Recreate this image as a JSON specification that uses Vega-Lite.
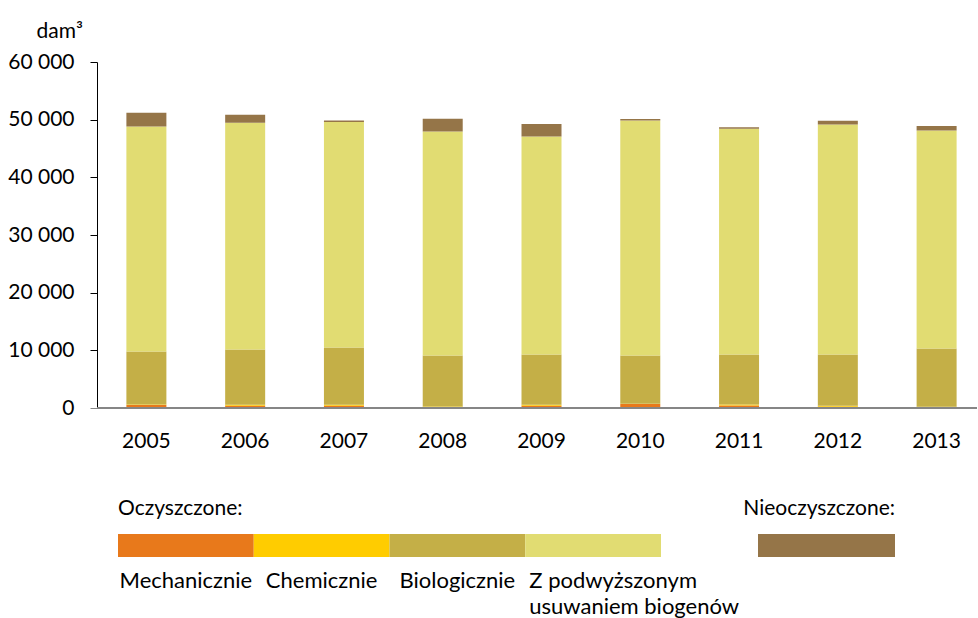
{
  "$schema": "https://vega.github.io/schema/vega-lite/v6.json",
  "padding": {"left": 7, "top": 20, "right": 0, "bottom": 0},
  "config": {
    "font": "Lato",
    "view": {"stroke": null},
    "locale": {"number": {"decimal": ",", "thousands": " ", "grouping": [3], "currency": ["", " zł"]}},
    "axis": {"labelFont": "Lato", "titleFont": "Lato", "labelColor": "#000000", "titleColor": "#000000"},
    "title": {"font": "Lato", "fontWeight": "normal", "color": "#000000", "fontSize": 21}
  },
  "spacing": 47,
  "vconcat": [
    {
      "width": 880,
      "height": 346,
      "data": {
        "values": [
          {"rok": "2005", "kategoria": "Mechanicznie", "n": 1, "wartosc": 500},
          {"rok": "2005", "kategoria": "Chemicznie", "n": 2, "wartosc": 100},
          {"rok": "2005", "kategoria": "Biologicznie", "n": 3, "wartosc": 9200},
          {"rok": "2005", "kategoria": "Z podwyższonym usuwaniem biogenów", "n": 4, "wartosc": 39030},
          {"rok": "2005", "kategoria": "Nieoczyszczone", "n": 5, "wartosc": 2370},
          {"rok": "2006", "kategoria": "Mechanicznie", "n": 1, "wartosc": 400},
          {"rok": "2006", "kategoria": "Chemicznie", "n": 2, "wartosc": 150},
          {"rok": "2006", "kategoria": "Biologicznie", "n": 3, "wartosc": 9610},
          {"rok": "2006", "kategoria": "Z podwyższonym usuwaniem biogenów", "n": 4, "wartosc": 39310},
          {"rok": "2006", "kategoria": "Nieoczyszczone", "n": 5, "wartosc": 1390},
          {"rok": "2007", "kategoria": "Mechanicznie", "n": 1, "wartosc": 400},
          {"rok": "2007", "kategoria": "Chemicznie", "n": 2, "wartosc": 150},
          {"rok": "2007", "kategoria": "Biologicznie", "n": 3, "wartosc": 9960},
          {"rok": "2007", "kategoria": "Z podwyższonym usuwaniem biogenów", "n": 4, "wartosc": 39090},
          {"rok": "2007", "kategoria": "Nieoczyszczone", "n": 5, "wartosc": 250},
          {"rok": "2008", "kategoria": "Mechanicznie", "n": 1, "wartosc": 100},
          {"rok": "2008", "kategoria": "Chemicznie", "n": 2, "wartosc": 150},
          {"rok": "2008", "kategoria": "Biologicznie", "n": 3, "wartosc": 8870},
          {"rok": "2008", "kategoria": "Z podwyższonym usuwaniem biogenów", "n": 4, "wartosc": 38840},
          {"rok": "2008", "kategoria": "Nieoczyszczone", "n": 5, "wartosc": 2210},
          {"rok": "2009", "kategoria": "Mechanicznie", "n": 1, "wartosc": 400},
          {"rok": "2009", "kategoria": "Chemicznie", "n": 2, "wartosc": 150},
          {"rok": "2009", "kategoria": "Biologicznie", "n": 3, "wartosc": 8740},
          {"rok": "2009", "kategoria": "Z podwyższonym usuwaniem biogenów", "n": 4, "wartosc": 37810},
          {"rok": "2009", "kategoria": "Nieoczyszczone", "n": 5, "wartosc": 2150},
          {"rok": "2010", "kategoria": "Mechanicznie", "n": 1, "wartosc": 700},
          {"rok": "2010", "kategoria": "Chemicznie", "n": 2, "wartosc": 50},
          {"rok": "2010", "kategoria": "Biologicznie", "n": 3, "wartosc": 8370},
          {"rok": "2010", "kategoria": "Z podwyższonym usuwaniem biogenów", "n": 4, "wartosc": 40750},
          {"rok": "2010", "kategoria": "Nieoczyszczone", "n": 5, "wartosc": 250},
          {"rok": "2011", "kategoria": "Mechanicznie", "n": 1, "wartosc": 450},
          {"rok": "2011", "kategoria": "Chemicznie", "n": 2, "wartosc": 150},
          {"rok": "2011", "kategoria": "Biologicznie", "n": 3, "wartosc": 8690},
          {"rok": "2011", "kategoria": "Z podwyższonym usuwaniem biogenów", "n": 4, "wartosc": 39140},
          {"rok": "2011", "kategoria": "Nieoczyszczone", "n": 5, "wartosc": 250},
          {"rok": "2012", "kategoria": "Mechanicznie", "n": 1, "wartosc": 200},
          {"rok": "2012", "kategoria": "Chemicznie", "n": 2, "wartosc": 200},
          {"rok": "2012", "kategoria": "Biologicznie", "n": 3, "wartosc": 8890},
          {"rok": "2012", "kategoria": "Z podwyższonym usuwaniem biogenów", "n": 4, "wartosc": 39880},
          {"rok": "2012", "kategoria": "Nieoczyszczone", "n": 5, "wartosc": 640},
          {"rok": "2013", "kategoria": "Mechanicznie", "n": 1, "wartosc": 50},
          {"rok": "2013", "kategoria": "Chemicznie", "n": 2, "wartosc": 150},
          {"rok": "2013", "kategoria": "Biologicznie", "n": 3, "wartosc": 10130},
          {"rok": "2013", "kategoria": "Z podwyższonym usuwaniem biogenów", "n": 4, "wartosc": 37800},
          {"rok": "2013", "kategoria": "Nieoczyszczone", "n": 5, "wartosc": 760}
        ]
      },
      "layer": [
        {
          "mark": {"type": "bar", "width": 40},
          "encoding": {
            "x": {
              "field": "rok", "type": "ordinal",
              "scale": {"range": [0, 889], "paddingInner": 0, "paddingOuter": 0},
              "axis": {"title": null, "domain": false, "ticks": false, "labelAngle": 0, "labelFontSize": 21, "labelPadding": 39, "labelBaseline": "alphabetic"}
            },
            "y": {
              "field": "wartosc", "type": "quantitative", "stack": "zero",
              "scale": {"domain": [0, 60000], "nice": false},
              "axis": {
                "values": [0, 10000, 20000, 30000, 40000, 50000, 60000],
                "format": ",d", "grid": false, "domainColor": "#000000",
                "tickColor": {"condition": {"test": "datum.value === 0", "value": "#868686"}, "value": "#000000"},
                "tickSize": 7,
                "labelFontSize": 21, "labelPadding": 16,
                "title": "dam³", "titleAngle": 0, "titleFontSize": 21, "titleFontWeight": "normal",
                "titleAlign": "left", "titleBaseline": "alphabetic", "titleX": -61, "titleY": -25
              }
            },
            "color": {
              "field": "kategoria", "type": "nominal",
              "scale": {
                "domain": ["Mechanicznie", "Chemicznie", "Biologicznie", "Z podwyższonym usuwaniem biogenów", "Nieoczyszczone"],
                "range": ["#E8791B", "#FFCC00", "#C4AF47", "#E1DC72", "#957548"]
              },
              "legend": null
            },
            "order": {"field": "n", "type": "quantitative"}
          }
        },
        {
          "mark": {"type": "rule", "color": "#868686", "strokeWidth": 1.5},
          "encoding": {"y": {"datum": 0}}
        }
      ]
    },
    {
      "bounds": "flush",
      "spacing": 97,
      "hconcat": [
        {
          "width": 564,
          "height": 23,
          "title": {"text": "Oczyszczone:", "anchor": "start", "dx": 21, "offset": -2, "baseline": "alphabetic"},
          "data": {
            "values": [
              {"kategoria": "Mechanicznie", "n": 1, "etykieta": "Mechanicznie"},
              {"kategoria": "Chemicznie", "n": 2, "etykieta": "Chemicznie"},
              {"kategoria": "Biologicznie", "n": 3, "etykieta": "Biologicznie"},
              {"kategoria": "Z podwyższonym usuwaniem biogenów", "n": 4, "etykieta": "Z podwyższonym\nusuwaniem biogenów"}
            ]
          },
          "layer": [
            {
              "mark": {"type": "bar"},
              "encoding": {
                "x": {"field": "kategoria", "type": "nominal", "sort": null, "scale": {"range": [21, 564], "paddingInner": 0, "paddingOuter": 0}, "axis": null},
                "color": {
                  "field": "kategoria", "type": "nominal",
                  "scale": {
                    "domain": ["Mechanicznie", "Chemicznie", "Biologicznie", "Z podwyższonym usuwaniem biogenów", "Nieoczyszczone"],
                    "range": ["#E8791B", "#FFCC00", "#C4AF47", "#E1DC72", "#957548"]
                  },
                  "legend": null
                }
              }
            },
            {
              "transform": [{"filter": "datum.n < 4"}],
              "mark": {"type": "text", "align": "center", "baseline": "alphabetic", "dy": 42, "fontSize": 22, "color": "#000000"},
              "encoding": {
                "x": {"field": "kategoria", "type": "nominal", "sort": null},
                "text": {"field": "etykieta"}
              }
            },
            {
              "transform": [{"filter": "datum.n == 4"}],
              "mark": {"type": "text", "align": "left", "baseline": "alphabetic", "dy": 42, "dx": 4, "fontSize": 22, "lineHeight": 26, "lineBreak": "\n", "color": "#000000"},
              "encoding": {
                "x": {"field": "kategoria", "type": "nominal", "sort": null, "bandPosition": 0},
                "text": {"field": "etykieta"}
              }
            }
          ]
        },
        {
          "width": 137,
          "height": 23,
          "title": {"text": "Nieoczyszczone:", "anchor": "end", "offset": -2, "baseline": "alphabetic"},
          "data": {"values": [{"kategoria": "Nieoczyszczone"}]},
          "mark": {"type": "bar"},
          "encoding": {
            "x": {"field": "kategoria", "type": "nominal", "scale": {"range": [0, 137], "paddingInner": 0, "paddingOuter": 0}, "axis": null},
            "color": {"value": "#957548"}
          }
        }
      ]
    }
  ]
}
